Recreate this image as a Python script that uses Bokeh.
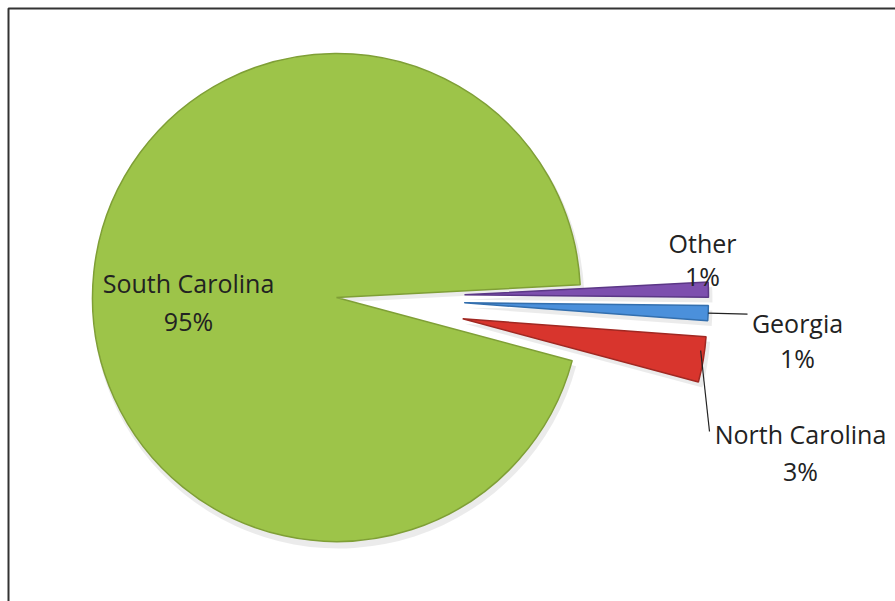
import math
from bokeh.plotting import figure
from bokeh.models import Range1d, ColumnDataSource
from bokeh.core.properties import value
from bokeh.embed import file_html
from bokeh.resources import INLINE

# ---- data ----
categories = ["South Carolina", "North Carolina", "Georgia", "Other"]
shares = [95, 3, 1, 1]
pct_labels = ["95%", "3%", "1%", "1%"]

# ---- style / layout ----
colors = ["#9dc449", "#d8352d", "#4b90db", "#7d4fae"]
edge_colors = ["#7f9f36", "#a02822", "#336fae", "#5b3786"]
W, H = 895, 601
CX, CY = 336, 297          # pie centre (pixels from top-left)
R = 244
START = 3.0                # degrees, anticlockwise from +x
EXPLODE = [0, 128, 128, 128]
FONT = "Open Sans"
FS = "25px"
# label anchor (centre x, baseline y of name line, baseline y of pct line), pixels
label_pos = [(188, 282, 320), (800, 433, 470), (797, 322, 357), (702, 242, 275)]


def Y(py):
    return H - py


total = float(sum(shares))
starts, ends, cx, cy, mids = [], [], [], [], []
a = START
for s, e in zip(shares, EXPLODE):
    span = 360.0 * s / total
    st, en = a, a + span
    mid = math.radians((st + en) / 2)
    starts.append(math.radians(st))
    ends.append(math.radians(en))
    mids.append(mid)
    cx.append(CX + e * math.cos(mid))
    cy.append(Y(CY) + e * math.sin(mid))
    a = en

src = ColumnDataSource(dict(x=cx, y=cy, start=starts, end=ends,
                            fill=colors, line=edge_colors, cat=categories))

p = figure(width=W, height=H, x_range=Range1d(0, W), y_range=Range1d(0, H),
           output_backend="svg", toolbar_location=None,
           x_axis_location=None, y_axis_location=None, min_border=0,
           background_fill_color="white", border_fill_color="white")
p.grid.visible = False
p.outline_line_color = None

# soft shadow
shadow = ColumnDataSource(dict(x=[v + 2 for v in cx], y=[v - 5 for v in cy],
                               start=starts, end=ends))
p.wedge(x="x", y="y", radius=R + 2, start_angle="start", end_angle="end",
        source=shadow, fill_color="#000000", fill_alpha=0.08, line_color=None)

p.wedge(x="x", y="y", radius=R, start_angle="start", end_angle="end",
        source=src, fill_color="fill", line_color="line", line_width=1.5)

# labels
name_x, name_y, pct_x, pct_y = [], [], [], []
for (lx, ny, py) in label_pos:
    name_x.append(lx); name_y.append(Y(ny))
    pct_x.append(lx); pct_y.append(Y(py))
p.text(x=name_x + pct_x, y=name_y + pct_y, text=categories + pct_labels,
       text_font=value(FONT), text_font_size=FS, text_color="#222222",
       text_align="center", text_baseline="alphabetic")

# leader lines (Georgia, North Carolina)
gi, ni = 2, 1
g_sx = cx[gi] + R * math.cos(mids[gi])
g_sy = cy[gi] + R * math.sin(mids[gi])
n_ang = starts[ni] + 0.7 * (ends[ni] - starts[ni])
n_sx = cx[ni] + R * math.cos(n_ang) - 4
n_sy = cy[ni] + R * math.sin(n_ang)
p.line([g_sx, label_pos[gi][0] - 50], [g_sy, g_sy - 1], line_color="#222222", line_width=1.2)
p.line([n_sx, label_pos[ni][0] - 91], [n_sy, Y(label_pos[ni][1] - 2)], line_color="#222222", line_width=1.2)

# chart border (left/top edges visible)
p.quad(left=[8], right=[W + 10], bottom=[-10], top=[Y(8)], fill_color=None,
       line_color="#333333", line_width=2)

open("out.html", "w").write(file_html(p, INLINE))
